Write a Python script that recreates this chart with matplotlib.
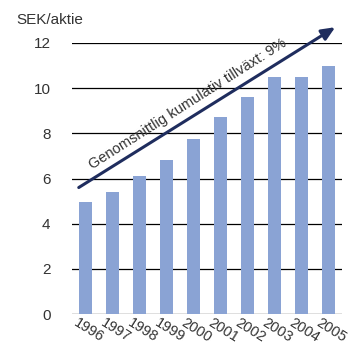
import matplotlib
matplotlib.use("Agg")
import matplotlib.pyplot as plt
from matplotlib.transforms import ScaledTranslation

years = ["1996", "1997", "1998", "1999", "2000", "2001", "2002", "2003", "2004", "2005"]
values = [4.95, 5.42, 6.12, 6.8, 7.75, 8.72, 9.6, 10.5, 10.5, 11.0]
yticks = [0, 2, 4, 6, 8, 10, 12]
arrow_start = (-0.25, 5.6)
arrow_end = (9.25, 12.7)
annotation = "Genomsnittlig kumulativ tillväxt: 9%"
ylabel = "SEK/aktie"

plt.rcParams['font.family'] = ['Liberation Sans', 'DejaVu Sans']

fig = plt.figure(figsize=(3.52, 3.46), dpi=100)
ax = fig.add_axes([72/352, 1-314/346, 270/352, 271/346])

x = list(range(len(years)))
ax.bar(x, values, width=0.48, color="#8aa3d4", zorder=3)
ax.set_xlim(-0.5, len(years) - 0.5)
ax.set_ylim(0, 12)
ax.set_yticks(yticks)
ax.set_yticklabels([str(t) for t in yticks], fontsize=11, color="#333333")
for t in yticks:
    ax.axhline(t, color="black", lw=0.9, zorder=1)
ax.tick_params(axis="y", length=0, pad=15.5)
ax.tick_params(axis="x", length=0, pad=11.5)
ax.set_xticks(x)
ax.set_xticklabels(years, rotation=-32, fontsize=10.5, color="#333333",
                   ha="center", rotation_mode="anchor", va="center")
for lab in ax.get_xticklabels():
    lab.set_transform(lab.get_transform() + ScaledTranslation(3/100, 0, fig.dpi_scale_trans))
for s in ax.spines.values():
    s.set_visible(False)

ax.annotate("", xy=arrow_end, xytext=arrow_start,
            arrowprops=dict(arrowstyle="-|>,head_length=0.8,head_width=0.35",
                            color="#1f2d5e", lw=2.2, shrinkA=0, shrinkB=0),
            annotation_clip=False, zorder=5)

ax.text(3.8, 9.3, annotation, rotation=32.5, rotation_mode="anchor",
        ha="center", va="center", fontsize=10.5, color="#333333", zorder=6)

fig.text(16/352, 1-20/346, ylabel, fontsize=11, color="#333333", va="center", ha="left")

fig.savefig("out.png", dpi=100)
